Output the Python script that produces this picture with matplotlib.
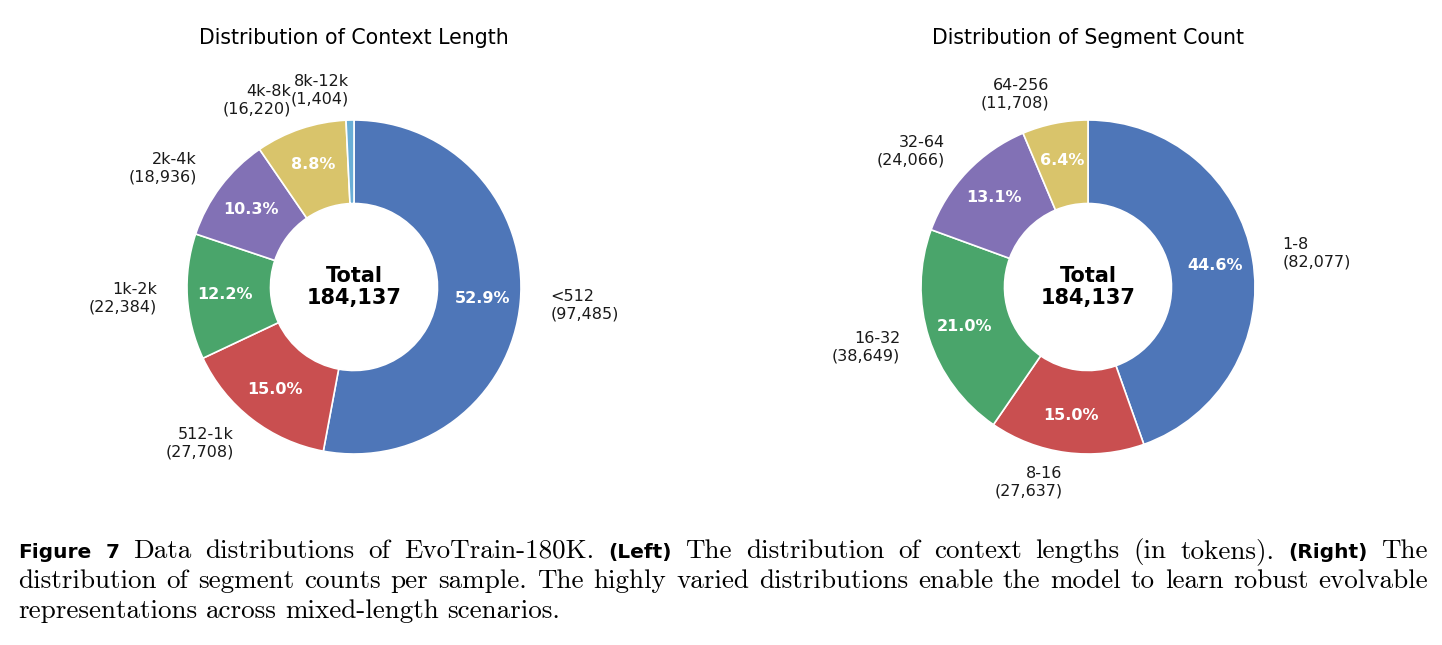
import matplotlib
matplotlib.use("Agg")
import matplotlib.pyplot as plt

# ---- data ----
ctx_labels = ["<512", "512-1k", "1k-2k", "2k-4k", "4k-8k", "8k-12k"]
ctx_counts = [97485, 27708, 22384, 18936, 16220, 1404]
seg_labels = ["1-8", "8-16", "16-32", "32-64", "64-256"]
seg_counts = [82077, 27637, 38649, 24066, 11708]
titles = ["Distribution of Context Length", "Distribution of Segment Count"]
colors = ["#4e76b8", "#c94f50", "#4aa56b", "#8271b5", "#d9c46b", "#6aaed6"]

W, H = 1442, 645
DPI = 100
fig = plt.figure(figsize=(W / DPI, H / DPI), dpi=DPI)

R_PX = 167
L = 1.75


def donut(cx, cy, labels, counts, title):
    size = 2 * L * R_PX
    ax = fig.add_axes([(cx - size / 2) / W, 1 - (cy + size / 2) / H, size / W, size / H])
    total = sum(counts)
    lab = [f"{l}\n({c:,})" for l, c in zip(labels, counts)]

    def fmt(p):
        return f"{p:.1f}%" if p >= 2 else ""

    wedges, texts, autotexts = ax.pie(
        counts, labels=lab, colors=colors[:len(counts)], startangle=90,
        counterclock=False, autopct=fmt, pctdistance=0.775, labeldistance=1.18,
        wedgeprops=dict(width=0.5, edgecolor="white", linewidth=1.2),
        textprops=dict(fontsize=11.5, color="#1a1a1a"))
    for t in autotexts:
        t.set_color("white")
        t.set_fontweight("bold")
        t.set_fontsize(11.5)
    ax.text(0, 0, f"Total\n{total:,}", ha="center", va="center",
            fontsize=15, fontweight="bold", linespacing=1.1)
    ax.set_xlim(-L, L)
    ax.set_ylim(-L, L)
    ax.set_aspect("equal")
    ax.axis("off")
    fig.text(cx / W, 1 - 38 / H, title, ha="center", va="center", fontsize=14.8)


donut(354, 287, ctx_labels, ctx_counts, titles[0])
donut(1088, 287, seg_labels, seg_counts, titles[1])

# ---- caption ----
SANS = dict(family="DejaVu Sans", weight="bold", size=14.5)
SERIF = dict(family="cmr10", size=19.5)
cap_lines = [
    [("Figure 7", SANS), ("Data distributions of EvoTrain-180K.", SERIF), ("(Left)", SANS),
     ("The distribution of context lengths (in tokens).", SERIF), ("(Right)", SANS), ("The", SERIF)],
    [("distribution of segment counts per sample. The highly varied distributions enable the model to learn robust evolvable", SERIF)],
    [("representations across mixed-length scenarios.", SERIF)],
]
baselines = [558, 588, 618]
x0, x1 = 18, 1428

fig.canvas.draw()
renderer = fig.canvas.get_renderer()
for li, (line, yb) in enumerate(zip(cap_lines, baselines)):
    words = []
    for txt, st in line:
        for w in txt.split(" "):
            words.append((w, st))
    arts = []
    for w, st in words:
        t = fig.text(0, 1 - yb / H, w, va="baseline", ha="left", **st)
        arts.append(t)
    widths = [a.get_window_extent(renderer).width for a in arts]
    if li < len(cap_lines) - 1:
        gap = (x1 - x0 - sum(widths)) / (len(arts) - 1)
    else:
        gap = 8.5
    x = x0
    for a, w in zip(arts, widths):
        a.set_x(x / W)
        x += w + gap

fig.savefig("out.png", dpi=DPI)
